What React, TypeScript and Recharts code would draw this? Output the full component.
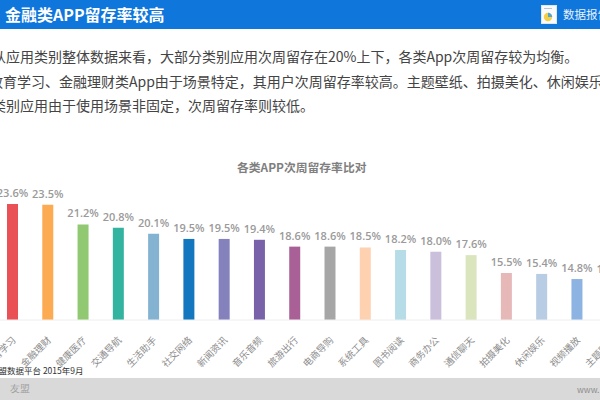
import React from 'react';
import { BarChart, Bar, XAxis, YAxis, Cell, LabelList } from 'recharts';

const categories = ['教育学习','金融理财','健康医疗','交通导航','生活助手','社交网络','新闻资讯','音乐音频','旅游出行','电商导购','系统工具','图书阅读','商务办公','通信聊天','拍摄美化','休闲娱乐','视频播放','主题壁纸'];
const retention = [23.6,23.5,21.2,20.8,20.1,19.5,19.5,19.4,18.6,18.6,18.5,18.2,18.0,17.6,15.5,15.4,14.8,14.7];
const colors = ['#ea5156','#fcab53','#90c972','#33b4a0','#84b3d2','#1277be','#8581bd','#7a62aa','#a96096','#a6a6a6','#fed2b0','#b6dce8','#cbc0dc','#dae4bd','#e6b8b7','#b8cce4','#8db3e2','#c9d6e8'];
const bodyLines = [
  '从应用类别整体数据来看，大部分类别应用次周留存在20%上下，各类App次周留存较为均衡。',
  '教育学习、金融理财类App由于场景特定，其用户次周留存率较高。主题壁纸、拍摄美化、休闲娱乐等',
  '类别应用由于使用场景非固定，次周留存率则较低。',
];
const bodyLineY = [45, 70, 94];
const bodyLineX = [-8, -11, -8];

const data = categories.map((name, i) => ({ name, value: retention[i] }));
const font = '"Noto Sans CJK SC", "Noto Sans", sans-serif';

const abs = (left: number, top: number, extra: React.CSSProperties = {}): React.CSSProperties => ({
  position: 'absolute', left, top, whiteSpace: 'nowrap', ...extra,
});

export default function App() {
  return (
    <div style={{ position: 'fixed', left: 0, top: 0, width: 600, height: 400, overflow: 'hidden', background: '#fff', fontFamily: font }}>
      <div style={abs(0, 0, { width: 600, height: 29, background: '#0f76dc' })} />
      <div style={abs(5, 3, { color: '#fff', fontSize: 16, fontWeight: 700, lineHeight: '23px' })}>金融类APP留存率较高</div>
      <svg style={abs(541, 5)} width={16} height={19} viewBox="0 0 16 19">
        <rect x={0.5} y={0.5} width={15} height={18} fill="#fafafa" stroke="#dfe6ee" />
        <rect x={3} y={3} width={8} height={1} fill="#b9c7d4" />
        <circle cx={7} cy={12} r={4.2} fill="#f3cf45" />
        <path d="M7 12 L7 7.8 A4.2 4.2 0 0 1 11.2 12 Z" fill="#4fa6d8" />
      </svg>
      <div style={abs(563, 5, { color: '#e8f2fc', fontSize: 11.5, lineHeight: '19px' })}>数据报告</div>

      {bodyLines.map((t, i) => (
        <div key={i} style={abs(bodyLineX[i], bodyLineY[i], { color: '#444444', fontSize: 14, lineHeight: '22px' })}>{t}</div>
      ))}

      <div style={abs(237, 157, { color: '#7f7f7f', fontSize: 11.8, fontWeight: 700, lineHeight: '20px' })}>各类APP次周留存率比对</div>

      <div style={abs(-5, 160)}>
        <BarChart width={635} height={240} data={data} margin={{ top: 32, right: 0, bottom: 0, left: 0 }} barCategoryGap="68%">
          <YAxis hide domain={[10, 25]} />
          <XAxis
            dataKey="name"
            height={80}
            interval={0}
            axisLine={{ stroke: '#eeeeee', strokeWidth: 1 }}
            tickLine={false}
            tick={{ angle: -45, textAnchor: 'end', fill: '#8c8c8c', fontSize: 9.5, fontFamily: font, dx: -1, dy: 8 }}
          />
          <Bar dataKey="value" barSize={11} isAnimationActive={false}>
            {data.map((d, i) => <Cell key={d.name} fill={colors[i]} />)}
            <LabelList
              dataKey="value"
              position="top"
              offset={7}
              formatter={(v: number) => `${v.toFixed(1)}%`}
              style={{ fill: '#9a9a9a', fontSize: 11, fontWeight: 600, fontFamily: '"Open Sans", sans-serif' }}
            />
          </Bar>
        </BarChart>
      </div>

      <div style={abs(-10, 363, { color: '#333', fontSize: 8.5, lineHeight: '14px' })}>友盟数据平台 2015年9月</div>
      <div style={abs(0, 378, { width: 600, height: 22, background: '#d9d9d9' })} />
      <div style={abs(10, 381, { color: '#a0a0a0', fontSize: 10, fontFamily: '"Liberation Serif", serif', lineHeight: '16px' })}>友盟</div>
      <div style={abs(577, 382, { color: '#8c8c8c', fontSize: 8.5, lineHeight: '14px' })}>www. umeng.com</div>
    </div>
  );
}
